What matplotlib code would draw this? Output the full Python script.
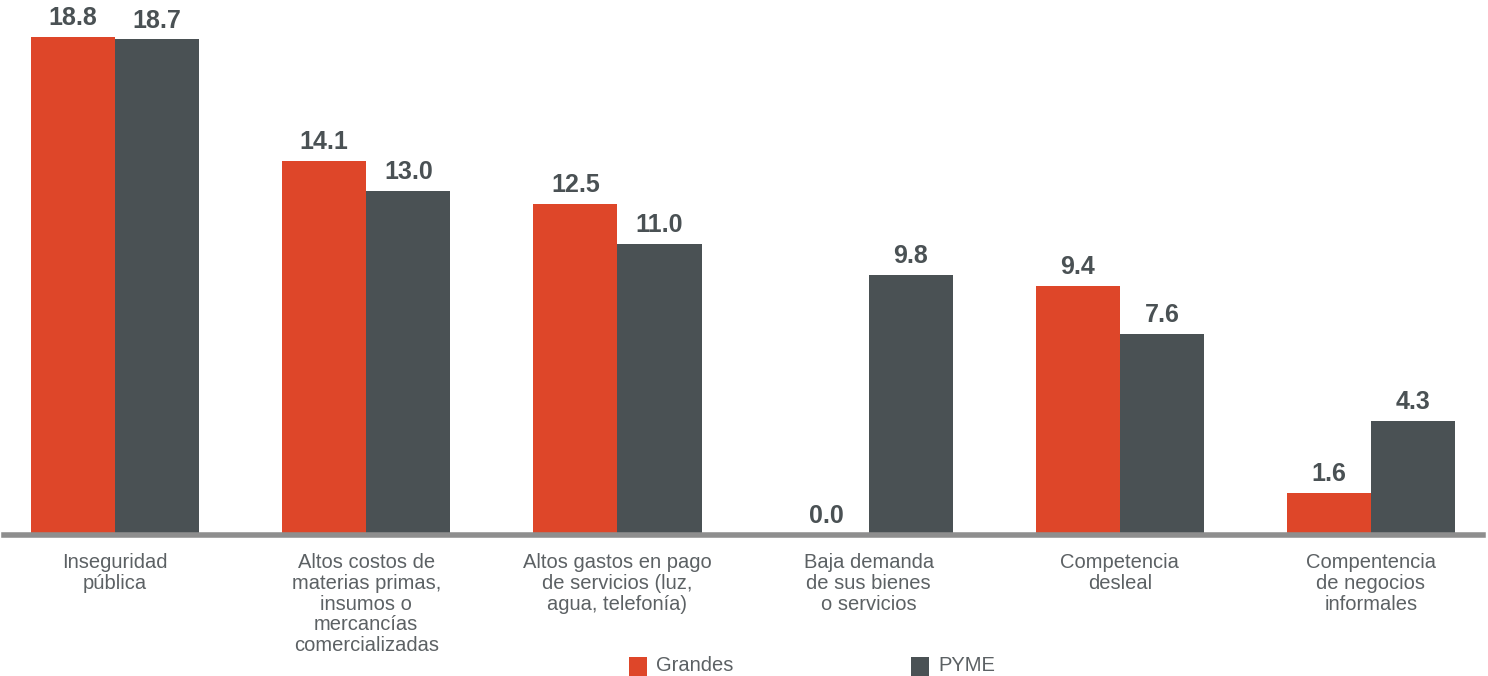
import matplotlib
matplotlib.use("Agg")
import matplotlib.pyplot as plt
from matplotlib.patches import Rectangle
import numpy as np

categories = ["Inseguridad\npública",
              "Altos costos de\nmaterias primas,\ninsumos o\nmercancías\ncomercializadas",
              "Altos gastos en pago\nde servicios (luz,\nagua, telefonía)",
              "Baja demanda\nde sus bienes\no servicios",
              "Competencia\ndesleal",
              "Compentencia\nde negocios\ninformales"]
grandes = [18.8, 14.1, 12.5, 0.0, 9.4, 1.6]
pyme = [18.7, 13.0, 11.0, 9.8, 7.6, 4.3]
series_names = ["Grandes", "PYME"]

RED = "#DE4629"
GRAY = "#4A5154"
TXT = "#5C6164"
FONT = ["Liberation Sans", "DejaVu Sans"]
plt.rcParams['font.family'] = FONT

W, H = 1488, 676
fig = plt.figure(figsize=(W/100, H/100), dpi=100)
ax = fig.add_axes([4/W, 1-535/H, (1483-4)/W, 535/H])
ax.set_xlim(-0.442, 5.446)
ax.set_ylim(0, 535/26.5)

x = np.arange(len(categories))
bw = 0.335
b1 = ax.bar(x - bw/2, grandes, bw, color=RED, label=series_names[0])
b2 = ax.bar(x + bw/2, pyme, bw, color=GRAY, label=series_names[1])

for bars, vals in ((b1, grandes), (b2, pyme)):
    for b, v in zip(bars, vals):
        ax.annotate(f"{v:.1f}", (b.get_x() + b.get_width()/2, v),
                    xytext=(0, 5), textcoords="offset points",
                    ha="center", va="bottom", fontsize=18, fontweight="bold",
                    color=GRAY)

for s in ["top", "right", "left"]:
    ax.spines[s].set_visible(False)
ax.spines["bottom"].set_color("#8E8E8E")
ax.spines["bottom"].set_linewidth(4)
ax.set_yticks([])
ax.set_xticks(x)
ax.set_xticklabels(categories, fontsize=14.5, color=TXT, linespacing=1.12, va="top")
ax.tick_params(axis="x", length=0, pad=13)

# legend
for (x0, name, col) in ((629, series_names[0], RED), (911, series_names[1], GRAY)):
    fig.add_artist(Rectangle((x0/W, 0), 18/W, 19/H, transform=fig.transFigure,
                             color=col, lw=0))
    fig.text((x0 + 27)/W, 1/H, name, fontsize=14.5, color=TXT, ha="left", va="bottom")

fig.savefig("out.png", dpi=100)
